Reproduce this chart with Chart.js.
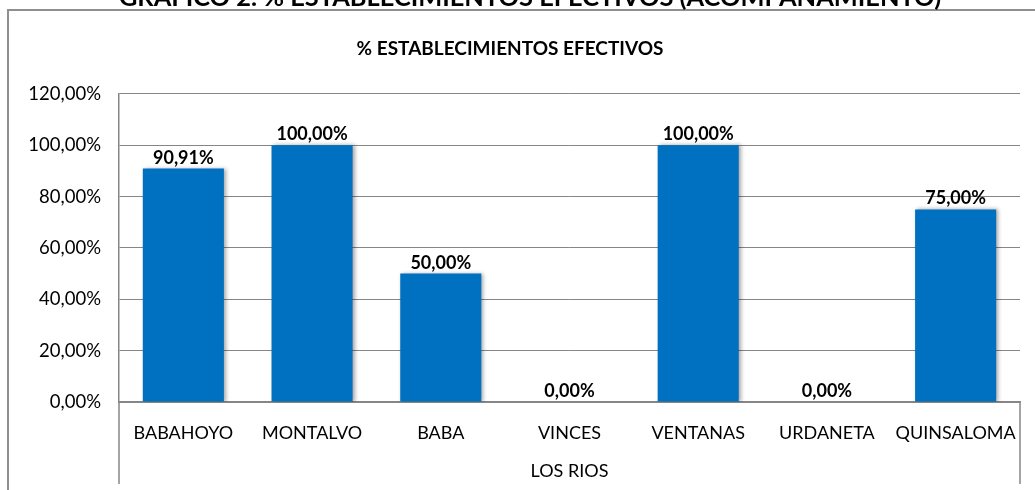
<!DOCTYPE html>
<html lang="es">
<head>
<meta charset="UTF-8">
<title>% Establecimientos efectivos</title>
<script src="https://cdn.jsdelivr.net/npm/chart.js"></script>
<style>
  html, body { margin: 0; padding: 0; background: #fff; overflow: hidden; }
  #wrap { position: relative; width: 1035px; height: 490px; }
</style>
</head>
<body>
<div id="wrap"><canvas id="grafico" width="1035" height="490"></canvas></div>
<script>
// datos
const cantones = ['BABAHOYO', 'MONTALVO', 'BABA', 'VINCES', 'VENTANAS', 'URDANETA', 'QUINSALOMA'];
const provincia = 'LOS RIOS';
const efectivos = [0.9091, 1, 0.5, 0, 1, 0, 0.75];
const ejeMin = 0;
const ejeMax = 1.2;
const ejePaso = 0.2;
const tituloHoja = 'GRAFICO 2. % ESTABLECIMIENTOS EFECTIVOS (ACOMPAÑAMIENTO)';
const tituloGrafico = '% ESTABLECIMIENTOS EFECTIVOS';

const fuente = 'Lato, "Open Sans", sans-serif';
const gris = '#868686';

function pct(v) {
    return (v * 100).toFixed(2).replace('.', ',') + '%';
}

// sombra de barras, etiquetas de datos, marco y categoria agrupada
const extras = {
    id: 'extras',
    beforeDatasetsDraw(chart) {
        const ctx = chart.ctx;
        ctx.save();
        ctx.shadowColor = 'rgba(0,0,0,0.35)';
        ctx.shadowBlur = 4;
        ctx.shadowOffsetX = 2;
        ctx.shadowOffsetY = 0;
    },
    afterDatasetsDraw(chart) {
        const ctx = chart.ctx;
        ctx.restore();
        ctx.save();
        ctx.font = 'bold 18px ' + fuente;
        ctx.fillStyle = '#000';
        ctx.textAlign = 'center';
        ctx.textBaseline = 'alphabetic';
        chart.getDatasetMeta(0).data.forEach((bar, i) => {
            ctx.fillText(pct(efectivos[i]), bar.x, bar.y - 5);
        });
        ctx.restore();
    },
    afterDraw(chart) {
        const ctx = chart.ctx;
        const a = chart.chartArea;
        ctx.save();

        // marco del area del grafico
        ctx.strokeStyle = '#8f8f8f';
        ctx.lineWidth = 2;
        ctx.beginPath();
        ctx.moveTo(8, 490);
        ctx.lineTo(8, 10);
        ctx.lineTo(1035, 10);
        ctx.stroke();

        // titulo de la hoja (cortado arriba)
        ctx.font = 'bold 24px ' + fuente;
        const w = ctx.measureText(tituloHoja).width;
        const size = 24 * 821 / w;
        ctx.font = 'bold ' + size.toFixed(1) + 'px ' + fuente;
        ctx.fillStyle = '#000';
        ctx.textAlign = 'center';
        ctx.textBaseline = 'alphabetic';
        ctx.fillText(tituloHoja, 530, 6);

        // lineas del nivel de provincia
        ctx.strokeStyle = gris;
        ctx.lineWidth = 1.5;
        ctx.beginPath();
        ctx.moveTo(a.left, a.bottom);
        ctx.lineTo(a.left, 484);
        ctx.moveTo(a.right, a.bottom);
        ctx.lineTo(a.right, 484);
        ctx.stroke();

        ctx.font = '18px ' + fuente;
        ctx.textBaseline = 'middle';
        ctx.fillText(provincia, (a.left + a.right) / 2, 471);
        ctx.restore();
    }
};

new Chart(document.getElementById('grafico'), {
    type: 'bar',
    data: {
        labels: cantones,
        datasets: [{
            label: tituloGrafico,
            data: efectivos,
            backgroundColor: '#0070C0',
            borderWidth: 0,
            categoryPercentage: 1,
            barPercentage: 0.63
        }]
    },
    options: {
        responsive: false,
        animation: false,
        layout: { padding: { top: 10, left: 0, right: 15, bottom: 0 } },
        plugins: {
            legend: { display: false },
            tooltip: { enabled: false },
            title: {
                display: true,
                text: tituloGrafico,
                color: '#000',
                font: { family: fuente, size: 19, weight: 'bold' },
                padding: { top: 27, bottom: 34 }
            }
        },
        scales: {
            x: {
                afterFit(s) { s.height = 88; },
                grid: { display: false },
                border: { display: true, color: gris, width: 1.5 },
                ticks: {
                    color: '#000',
                    font: { family: fuente, size: 18 },
                    padding: 12,
                    maxRotation: 0,
                    autoSkip: false
                }
            },
            y: {
                min: ejeMin,
                max: ejeMax,
                afterFit(s) { s.width = 119; },
                grid: { color: gris, drawTicks: false },
                border: { display: true, color: gris, width: 1.5 },
                ticks: {
                    stepSize: ejePaso,
                    color: '#000',
                    font: { family: fuente, size: 18.5 },
                    padding: 18,
                    callback: v => pct(v)
                }
            }
        }
    },
    plugins: [extras]
});
</script>
</body>
</html>
